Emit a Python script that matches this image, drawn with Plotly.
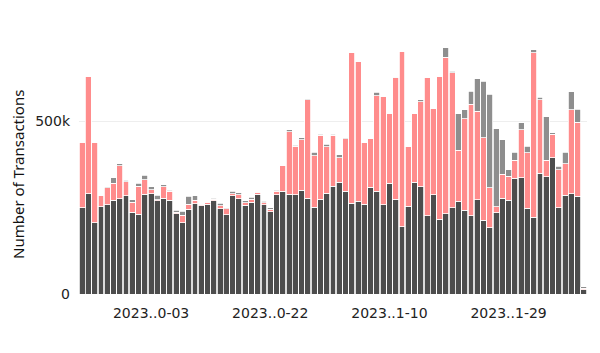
import pandas as pd
import plotly.graph_objects as go

dates = pd.date_range("2023-09-22", periods=81, freq="D")

dark = [250, 290, 206, 252, 258, 272, 276, 284, 237, 231, 289, 291, 270, 278, 271, 233, 207, 246, 262, 255,
        260, 270, 247, 229, 285, 276, 257, 266, 289, 259, 238, 288, 298, 289, 287, 300, 277, 251, 274, 292,
        312, 323, 297, 263, 268, 260, 309, 298, 258, 320, 275, 195, 254, 323, 310, 226, 287, 216, 233, 250,
        269, 243, 226, 273, 213, 192, 235, 278, 271, 335, 336, 248, 222, 350, 340, 394, 250, 286, 290, 283, 12]
pink = [190, 340, 234, 32, 50, 48, 95, 41, 28, 81, 42, 11, 3, 32, 26, 4, 21, 14, 10, 5,
        5, 4, 9, 18, 6, 12, 7, 8, 4, 5, 7, 10, 74, 181, 141, 147, 285, 149, 186, 134,
        147, 72, 152, 435, 405, 178, 140, 276, 314, 203, 351, 508, 172, 199, 246, 402, 249, 414, 453, 390,
        147, 265, 323, 256, 240, 116, 17, 69, 70, 52, 140, 161, 477, 212, 47, 68, 110, 91, 243, 215, 4]
gray = [0, 0, 0, 0, 3, 17, 6, 4, 8, 8, 13, 8, 13, 7, 3, 5, 12, 23, 12, 2,
        2, 4, 7, 3, 7, 5, 6, 6, 2, 5, 5, 2, 0, 6, 3, 6, 3, 10, 3, 7,
        4, 8, 4, 0, 0, 0, 0, 10, 0, 0, 2, 0, 0, 0, 6, 0, 0, 0, 27, 5,
        106, 26, 38, 94, 163, 270, 227, 100, 19, 23, 20, 19, 8, 8, 127, 5, 10, 33, 53, 37, 5]

tick_vals = ["2023-10-03", "2023-10-22", "2023-11-10", "2023-11-29"]
tick_text = ["2023..0-03", "2023..0-22", "2023..1-10", "2023..1-29"]

series = [
    ("Dark", [v * 1000 for v in dark], "#4d4d4d"),
    ("Pink", [v * 1000 for v in pink], "#ff8c8c"),
    ("Gray", [v * 1000 for v in gray], "#8e8e8e"),
]

fig = go.Figure()
for name, vals, col in series:
    fig.add_trace(go.Bar(x=dates, y=vals, name=name,
                         marker=dict(color=col, line=dict(color="white", width=0.8))))

tick_font = dict(family="DejaVu Sans", size=14, color="#222")
fig.update_layout(
    barmode="stack",
    bargap=0.06,
    width=600, height=353,
    margin=dict(l=79, r=13, t=35, b=59),
    plot_bgcolor="white", paper_bgcolor="white",
    showlegend=False,
    font=dict(family="Noto Sans", size=14, color="#222"),
    xaxis=dict(tickmode="array", tickvals=tick_vals, ticktext=tick_text,
               showgrid=False, zeroline=False, showline=False,
               ticklabelstandoff=9, tickfont=tick_font),
    yaxis=dict(range=[0, 750000], tickvals=[0, 500000], ticktext=["0", "500k"],
               showgrid=True, gridcolor="#eeeeee", zeroline=False,
               ticklabelstandoff=8, tickfont=tick_font),
    annotations=[dict(text="Number of Transactions", textangle=-90, xref="paper", yref="paper",
                      x=(18 - 79) / 508, y=(294 - 175) / 259, xanchor="center", yanchor="middle",
                      showarrow=False, font=dict(family="Noto Sans", size=15, color="#111"))],
)
fig.write_html("out.html")
